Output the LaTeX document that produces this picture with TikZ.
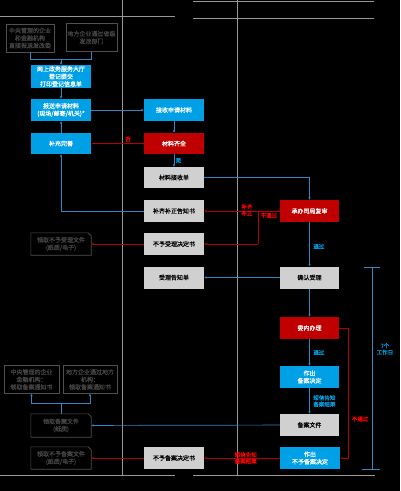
\documentclass[tikz,border=0pt]{standalone}
\usepackage{fontspec}
\newfontfamily\cjk[FakeBold=0.4]{Noto Sans CJK SC}
\usetikzlibrary{arrows.meta}
\definecolor{bfill}{RGB}{0,160,230}
\definecolor{rfill}{RGB}{192,0,0}
\definecolor{gfill}{RGB}{208,208,208}
\definecolor{bline}{RGB}{50,135,195}
\definecolor{rline}{RGB}{180,0,0}
\definecolor{oline}{RGB}{80,80,80}
\definecolor{otext}{RGB}{70,70,70}
\definecolor{lane}{RGB}{150,150,150}
\tikzset{
  box/.style={minimum width=60pt,minimum height=22pt,inner sep=1pt,align=center,
    font=\cjk\fontsize{6}{7.5}\selectfont},
  bluebox/.style={box,fill=bfill,text=white},
  redbox/.style={box,fill=rfill,text=white},
  graybox/.style={box,fill=gfill,text=black},
  outbox/.style={box,draw=oline,text=otext},
  docbox/.style={box,text=otext},
  bl/.style={draw=bline,line width=0.7pt},
  rl/.style={draw=rline,line width=0.7pt},
  ba/.style={bl,-{Latex[length=2.5pt,width=2.5pt]}},
  ra/.style={rl,-{Latex[length=2.5pt,width=2.5pt]}},
  blab/.style={text=bfill,font=\cjk\fontsize{5.5}{6.5}\selectfont,align=center,inner sep=0.5pt},
  rlab/.style={text=red,font=\cjk\fontsize{5.5}{6.5}\selectfont,align=center,inner sep=0.5pt},
  lanel/.style={draw=lane,line width=0.5pt}
}
\begin{document}
\begin{tikzpicture}[x=1pt,y=-1pt]
\fill[black] (0,0) rectangle (400,491);
\useasboundingbox (0,0) rectangle (400,491);
% lanes
\draw[lanel] (0,16) -- (175,16);
\draw[lanel] (193,1) -- (374,1);
\draw[lanel] (193,18) -- (374,18);
\draw[lanel] (122,0) -- (122,475);
\draw[lanel] (237,0) -- (237,475);
\draw[lanel] (0,475) -- (175,475);
\draw[lanel] (193,475) -- (375,475);
% nodes
\node[outbox,minimum width=48pt,minimum height=28pt] (a1) at (30,38) {中央管理的企业\\和金融机构\\直接报送发改委};
\node[outbox,minimum width=51pt,minimum height=28pt] (a2) at (91.5,37.5) {地方企业通过省级\\发改部门};
\node[bluebox,minimum height=23pt] (b1) at (61,76.5) {网上政务服务大厅\\登记提交\\打印登记信息单};
\node[bluebox] (b2) at (61,110) {报送申请材料\\(现场/邮寄/机关)*};
\node[bluebox] (c1) at (174,110) {接收申请材料};
\node[bluebox,minimum height=21pt] (b3) at (61,143.5) {补充完善};
\node[redbox,minimum height=21pt] (c2) at (174,143.5) {材料齐全};
\node[graybox,minimum height=21pt] (c3) at (174,177.5) {材料接收单};
\node[graybox] (c4) at (174,211) {补齐补正告知书};
\node[graybox] (c5) at (174,244) {不予受理决定书};
\node[docbox] (e1) at (61,244) {领取不予受理文件\\(纸质/电子)};
\node[redbox,minimum width=59pt] (d1) at (309.5,211) {承办司局复审};
\node[graybox,minimum width=59pt] (d2) at (309.5,277.5) {确认受理};
\node[graybox] (c6) at (174,277.5) {受理告知单};
\node[redbox,minimum width=59pt] (d3) at (309.5,328) {委内办理};
\node[bluebox,minimum width=59pt] (d4) at (309.5,377) {作出\\备案决定};
\node[graybox,minimum width=59pt] (d5) at (309.5,425) {备案文件};
\node[docbox,minimum height=23pt] (e2) at (61,425.5) {领取备案文件\\(纸质)};
\node[outbox,minimum width=55pt,minimum height=28pt] (f1) at (31.5,379.5) {中央管理的企业\\金融机构：\\领取备案通知书};
\node[outbox,minimum width=54pt,minimum height=28pt] (f2) at (90,379.5) {地方企业通过地方\\机构：\\领取备案通知书};
\node[bluebox] (d6) at (310,458) {作出\\不予备案决定};
\node[graybox] (c7) at (174,458) {不予备案决定书};
\node[docbox] (e3) at (61,458) {领取不予备案文件\\(纸质/电子)};
% document outlines
\foreach \n in {e1,e2,e3}{
  \draw[oline,line width=0.6pt] (\n.south west) -- (\n.north west) -- ([xshift=-3pt]\n.north east)
    -- ([yshift=-3pt]\n.north east) -- (\n.south east) -- cycle;
}
% coordinates
\coordinate (ja) at (61,59);
\coordinate (jf) at (61,403);
\coordinate (jr) at (258,211);
\coordinate (jr2) at (258,244);
\coordinate (jn) at (348,328);
% connectors
\draw[bl] (a1.south) |- (ja);
\draw[bl] (a2.south) |- (ja);
\draw[ba] (ja) -- (b1.north);
\draw[ba] (b1) -- (b2);
\draw[ba] (b2) -- (c1);
\draw[ba] (c1) -- (c2);
\draw[ra] (c2) -- node[rlab,above=1pt,pos=0.3]{否} (b3);
\draw[ba] (b3) -- (b2);
\draw[ba] (c2) -- node[blab,right=1pt]{是} (c3);
\draw[ba] (c3.east) -| (d1.north);
\draw[rl] (d1.west) -- node[rlab,below=1pt]{不通过} (jr);
\draw[ra] (jr) -- (c4.east);
\draw[rl] (jr) -- (jr2);
\draw[ra] (jr2) -- (c5.east);
\node[rlab] (lbq) at (247,210) {补齐\\补正};
\draw[ba] (c4.west) -| (b3.south);
\draw[ra] (c5) -- (e1);
\draw[ba] (d1) -- node[blab,right=3pt,pos=0.55]{通过} (d2);
\draw[ba] (d2) -- (c6);
\draw[ba] (d2) -- (d3);
\draw[ba] (d3) -- node[blab,right=3pt]{通过} (d4);
\draw[ba] (d4) -- node[blab,right=3pt]{短信告知\\备案结果} (d5);
\draw[ba] (d5) -- (e2);
\draw[bl] (e2.north) -- (jf);
\draw[ba] (jf) -| (f1.south);
\draw[ba] (jf) -| (f2.south);
\draw[rl] (d3.east) -- (jn);
\draw[ra] (jn) |- node[rlab,pos=0.35,right=3pt]{不通过} (d6.east);
\draw[ra] (d6) -- node[rlab,pos=0.45]{短信告知\\备案结果} (c7);
\draw[ra] (c7) -- (e3);
% bracket
\coordinate (bt) at (372,267);
\coordinate (bb) at (372,469);
\draw[bl] (bt) -- (bb);
\draw[bl] ([xshift=-8pt]bt) -- ([xshift=8pt]bt);
\draw[bl] ([xshift=-10pt]bb) -- ([xshift=8pt]bb);
\node[blab,anchor=west] (lday) at (376,349) {7个\\工作日};
\end{tikzpicture}
\end{document}
